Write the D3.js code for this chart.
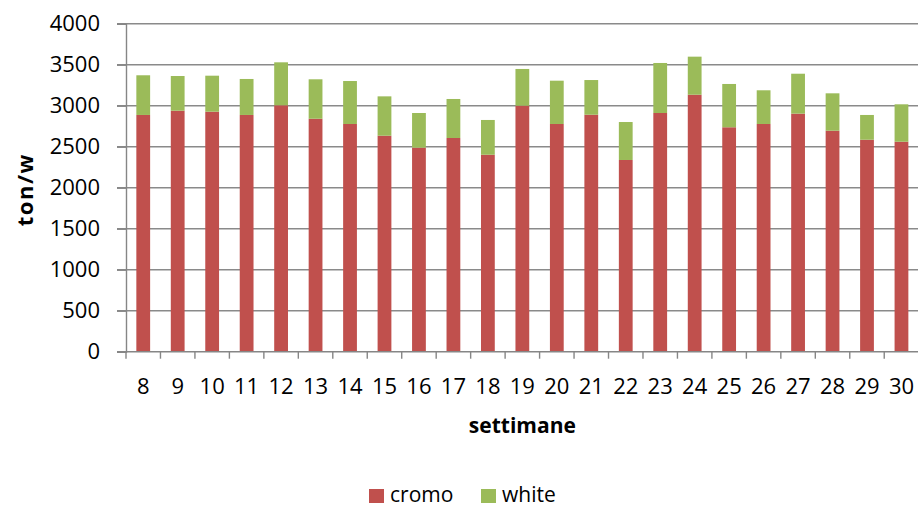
<!DOCTYPE html>
<html>
<head>
<meta charset="utf-8">
<script src="https://cdn.jsdelivr.net/npm/d3@7"></script>
<style>
  html, body { margin: 0; padding: 0; background: #fff; }
  svg text { font-family: "Open Sans", sans-serif; fill: #000; }
</style>
</head>
<body>
<div id="chart"></div>
<script>
// weeks (settimane)
const weeks = [8, 9, 10, 11, 12, 13, 14, 15, 16, 17, 18, 19, 20, 21, 22, 23, 24, 25, 26, 27, 28, 29, 30];
// ton/w per series
const cromo = [2887, 2939, 2927, 2887, 3005, 2841, 2777, 2634, 2488, 2606, 2402, 3000, 2777, 2890, 2338, 2911, 3134, 2737, 2777, 2903, 2695, 2585, 2561];
const white = [484, 423, 439, 439, 524, 481, 524, 480, 423, 476, 424, 448, 528, 423, 463, 610, 464, 528, 411, 487, 456, 302, 456];
const seriesNames = ['cromo', 'white'];
const yTicks = [0, 500, 1000, 1500, 2000, 2500, 3000, 3500, 4000];

const colors = { cromo: '#C0504D', white: '#9BBB59' };

const width = 918, height = 508;
const margin = { top: 23.7, right: 0, bottom: 156.3, left: 126 };
const innerW = width - margin.left - margin.right + 0.7;
const innerH = height - margin.top - margin.bottom;

const rows = weeks.map((w, i) => ({ week: w, cromo: cromo[i], white: white[i] }));
const stacked = d3.stack().keys(seriesNames)(rows);

const svg = d3.select('#chart').append('svg')
  .attr('width', width)
  .attr('height', height);

const g = svg.append('g').attr('transform', `translate(${margin.left},${margin.top})`);

const x = d3.scaleBand()
  .domain(weeks)
  .range([0, innerW])
  .paddingInner(0.6)
  .paddingOuter(0.3);

const y = d3.scaleLinear().domain([0, 4000]).range([innerH, 0]);

// gridlines
g.append('g')
  .selectAll('line')
  .data(yTicks.filter(t => t > 0))
  .enter().append('line')
  .attr('x1', -9)
  .attr('x2', innerW)
  .attr('y1', d => y(d))
  .attr('y2', d => y(d))
  .attr('stroke', '#8a8a8a')
  .attr('stroke-width', 1.4);

// bars
g.append('g')
  .selectAll('g')
  .data(stacked)
  .enter().append('g')
  .attr('fill', d => colors[d.key])
  .selectAll('rect')
  .data(d => d)
  .enter().append('rect')
  .attr('x', d => x(d.data.week))
  .attr('width', x.bandwidth())
  .attr('y', d => y(d[1]))
  .attr('height', d => y(d[0]) - y(d[1]));

// y axis
const yAxis = g.append('g')
  .call(d3.axisLeft(y).tickValues(yTicks).tickFormat(d3.format('d')).tickSize(9).tickPadding(17));
yAxis.select('.domain').attr('stroke', '#868686').attr('stroke-width', 1.4);
yAxis.selectAll('.tick line').attr('stroke', '#868686').attr('stroke-width', 1.4);
yAxis.selectAll('.tick text')
  .style('font-size', '22px')
  .attr('fill', '#000');

// x axis: ticks at category boundaries
const step = x.step();
const xb = g.append('g').attr('transform', `translate(0,${innerH})`);
xb.append('line')
  .attr('x1', -9).attr('x2', innerW)
  .attr('stroke', '#868686').attr('stroke-width', 1.4);
xb.selectAll('line.tk')
  .data(d3.range(weeks.length + 1))
  .enter().append('line')
  .attr('class', 'tk')
  .attr('x1', i => i * step).attr('x2', i => i * step)
  .attr('y1', 0).attr('y2', 7)
  .attr('stroke', '#868686').attr('stroke-width', 1.4);
xb.selectAll('text')
  .data(weeks)
  .enter().append('text')
  .attr('x', d => x(d) + x.bandwidth() / 2)
  .attr('y', 42)
  .attr('text-anchor', 'middle')
  .style('font-size', '22px')
  .text(d => d);

// axis titles
svg.append('text')
  .attr('x', margin.left + innerW / 2)
  .attr('y', 433)
  .attr('text-anchor', 'middle')
  .style('font-size', '21px')
  .style('font-weight', 'bold')
  .text('settimane');

svg.append('text')
  .attr('transform', `translate(33,${margin.top + innerH / 2 + 2}) rotate(-90)`)
  .attr('text-anchor', 'middle')
  .style('font-size', '22px')
  .style('font-weight', 'bold')
  .style('letter-spacing', '1.5px')
  .text('ton/w');

// legend
const legendX = [369, 481];
const legend = svg.append('g');
seriesNames.forEach((name, i) => {
  legend.append('rect')
    .attr('x', legendX[i]).attr('y', 489)
    .attr('width', 15).attr('height', 14)
    .attr('fill', colors[name]);
  legend.append('text')
    .attr('x', legendX[i] + 21).attr('y', 502)
    .style('font-size', '21px')
    .text(name);
});
</script>
</body>
</html>
